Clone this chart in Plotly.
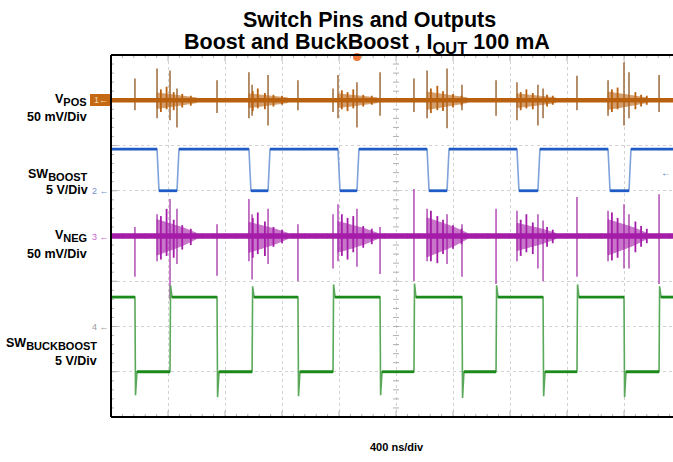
import plotly.graph_objects as go

# ---------------- figure geometry (screen px) ----------------
FW, FH = 673, 462
SCR_L, SCR_T, SCR_B, SCR_R = 111, 55, 417, 673   # plot area edges
ML, MT, MB, MR = SCR_L, SCR_T, FH - SCR_B, FW - SCR_R
PLOT_W = SCR_R - SCR_L
PLOT_H = SCR_B - SCR_T
NS_PER_DIV = 400
PX_PER_XDIV = 57
X_MAX = PLOT_W / PX_PER_XDIV * NS_PER_DIV   # visible ns (right edge is cut)
Y_DIVS = 8
PX_PER_YDIV = PLOT_H / Y_DIVS

# ---------------- channel settings ----------------
VPOS_OFFSET, VPOS_SCALE = 7.0, 50.0     # div, mV/div
BOOST_OFFSET, BOOST_SCALE = 5.0, 5.0    # div, V/div
VNEG_OFFSET, VNEG_SCALE = 4.0, 50.0
BB_OFFSET, BB_SCALE = 2.0, 5.0

# ---------------- data ----------------
# SW_BOOST edges (ns) and levels (V)
boost_fall_ns = [323, 968, 1593, 2218, 2849, 3488]
boost_rise_ns = [463, 1102, 1726, 2358, 2996, 3635]
boost_high_v = 4.6
boost_low_v = 0.0

# SW_BUCKBOOST edges (ns), levels (V), edge overshoots (V)
bb_fall_ns = [168, 744, 1312, 1888, 2463, 3032, 3600]
bb_rise_ns = [414, 990, 1558, 2126, 2702, 3270, 3846]
bb_high_v = 3.25
bb_low_v = -5.0
bb_fall_undershoot_v = [2.6, 2.8, 2.7, 2.6, 2.9, 2.7, 2.8]
bb_rise_overshoot_v = [1.3, 1.2, 1.4, 1.5, 1.3, 1.4, 1.2]

# main spike events on the output rails (ns, mV above / below baseline)
spike_ns = [168, 323, 414, 463, 744, 968, 990, 1102, 1312, 1558, 1593, 1726, 1888,
            2126, 2218, 2358, 2463, 2702, 2849, 2996, 3032, 3270, 3488, 3600, 3635, 3846]
vpos_spike_hi_mv = [24, 35, 33, 13, 22, 31, 17, 28, 22, 13, 28, 20, 31,
                    24, 33, 35, 17, 22, 20, 17, 13, 27, 22, 42, 31, 28]
vpos_spike_lo_mv = [-11, -20, -22, -30, -14, -20, -17, -28, -11, -13, -20, -30, -17,
                    -13, -20, -31, -11, -17, -22, -28, -20, -11, -17, -28, -20, -13]
vneg_spike_hi_mv = [10, 24, 41, 30, 13, 41, 24, 30, 13, 24, 35, 30, 10,
                    52, 30, 24, 13, 30, 28, 24, 17, 43, 28, 35, 24, 46]
vneg_spike_lo_mv = [-45, -28, -70, -31, -44, -28, -48, -31, -50, -36, -28, -34, -42,
                    -50, -28, -31, -45, -53, -28, -36, -50, -45, -28, -36, -36, -53]

# smaller ringing spikes inside the bursts (ns, mV)
ring_ns = [350, 390, 440, 500, 560, 995, 1030, 1080, 1140, 1200,
           1620, 1660, 1700, 1770, 1830, 2245, 2290, 2330, 2400, 2460,
           2875, 2915, 2960, 3060, 3100, 3515, 3555, 3680, 3720, 3760]
vpos_ring_hi_mv = [12, 15, 9, 7, 5, 10, 13, 8, 6, 5,
                   11, 9, 12, 6, 5, 13, 16, 10, 7, 5,
                   9, 12, 8, 6, 5, 12, 14, 9, 6, 5]
vpos_ring_lo_mv = [-13, -10, -11, -8, -6, -12, -9, -10, -7, -5,
                   -10, -12, -9, -7, -5, -14, -11, -12, -8, -6,
                   -11, -9, -10, -7, -5, -13, -10, -10, -7, -5]
vneg_ring_hi_mv = [22, 30, 18, 12, 8, 20, 26, 16, 10, 7,
                   24, 20, 22, 11, 8, 28, 22, 18, 12, 8,
                   18, 24, 15, 10, 7, 26, 20, 16, 11, 8]
vneg_ring_lo_mv = [-26, -22, -24, -15, -10, -24, -20, -22, -12, -8,
                   -22, -26, -18, -13, -9, -28, -30, -20, -14, -9,
                   -22, -18, -20, -12, -8, -27, -24, -18, -12, -8]

# noise bursts following SW_BOOST falling edges (ns, mV envelope)
burst_start_ns = [323, 968, 1593, 2218, 2849, 3488]
burst_end_ns = [600, 1240, 1870, 2500, 3120, 3760]
vpos_burst_hi_mv = [8, 7, 7, 9, 7, 9]
vpos_burst_lo_mv = [9, 8, 8, 10, 8, 10]
vneg_burst_hi_mv = [18, 15, 16, 20, 14, 18]
vneg_burst_lo_mv = [21, 18, 18, 23, 16, 21]
burst_decay = [1.0, 0.7, 0.4, 0.0]      # envelope fraction at 0, 1/3, 2/3, end of burst

# baseline noise band half-width (mV)
vpos_band_mv = 2.6
vneg_band_mv = 3.0

ORANGE = "#B8600E"
ORANGE_SPIKE = "#9C6A3A"
BLUE = "#1F5BC4"
BLUE_EDGE = "#7FA2DA"
MAGENTA = "#A41CA8"
MAGENTA_SPIKE = "#B04CB4"
GREEN = "#1A8A1A"
GREEN_EDGE = "#5AA85A"

EDGE_NS = 14


def to_div(v, offset, scale):
    return offset + v / scale


fig = go.Figure()

# ---------------- graticule minor ticks ----------------
tx, ty = [], []
dx = 3 / PX_PER_XDIV * NS_PER_DIV
dy = 3 / PX_PER_YDIV
n_x_minor = int(X_MAX / (NS_PER_DIV / 5)) + 1
for i in range(n_x_minor):
    x = i * NS_PER_DIV / 5
    tx += [x, x, None]; ty += [4 - dy, 4 + dy, None]
    big = 2 if i % 5 == 0 else 1
    tx += [x, x, None]; ty += [8, 8 - dy * big, None]
    tx += [x, x, None]; ty += [0, dy * big, None]
for j in range(Y_DIVS * 5 + 1):
    y = j / 5
    tx += [2000 - dx, 2000 + dx, None]; ty += [y, y, None]
    big = 2 if j % 5 == 0 else 1
    tx += [0, dx * big, None]; ty += [y, y, None]
fig.add_trace(go.Scatter(x=tx, y=ty, mode="lines", line=dict(color="#b0b0b0", width=1),
                         hoverinfo="skip", showlegend=False))


def spikes(ts, his, los, offset, scale, color, width):
    sx, sy = [], []
    for t, hi, lo in zip(ts, his, los):
        sx += [t, t, None]
        sy += [to_div(lo, offset, scale), to_div(hi, offset, scale), None]
    fig.add_trace(go.Scatter(x=sx, y=sy, mode="lines", line=dict(color=color, width=width),
                             hoverinfo="skip", showlegend=False))


def rail_traces(offset, scale, band, spike_hi, spike_lo, ring_hi, ring_lo, b_hi, b_lo,
                color, spike_color):
    spikes(spike_ns, spike_hi, spike_lo, offset, scale, spike_color, 1.5)
    # bursts as filled decaying envelopes
    for t0, t1, hi, lo in zip(burst_start_ns, burst_end_ns, b_hi, b_lo):
        n = len(burst_decay)
        ts = [t0 + k * (t1 - t0) / (n - 1) for k in range(n)]
        up = [band + (hi - band) * f for f in burst_decay]
        dn = [-(band + (lo - band) * f) for f in burst_decay]
        xs = ts + ts[::-1] + [ts[0]]
        ys = up + dn[::-1] + [up[0]]
        fig.add_trace(go.Scatter(x=xs, y=[to_div(v, offset, scale) for v in ys],
                                 mode="lines", fill="toself", fillcolor=color,
                                 line=dict(color=color, width=1), opacity=0.6,
                                 hoverinfo="skip", showlegend=False))
    spikes(ring_ns, ring_hi, ring_lo, offset, scale, color, 1.8)
    # baseline band
    fig.add_trace(go.Scatter(x=[0, X_MAX], y=[to_div(0, offset, scale)] * 2, mode="lines",
                             line=dict(color=color, width=2 * band / scale * PX_PER_YDIV),
                             hoverinfo="skip", showlegend=False))


rail_traces(VPOS_OFFSET, VPOS_SCALE, vpos_band_mv, vpos_spike_hi_mv, vpos_spike_lo_mv,
            vpos_ring_hi_mv, vpos_ring_lo_mv, vpos_burst_hi_mv, vpos_burst_lo_mv,
            ORANGE, ORANGE_SPIKE)

# SW_BOOST square wave: faint edges, solid levels
bx, by = [0], [boost_high_v]
for f, r in zip(boost_fall_ns, boost_rise_ns):
    bx += [f, f + EDGE_NS, r, r + EDGE_NS]
    by += [boost_high_v, boost_low_v, boost_low_v, boost_high_v]
bx.append(X_MAX); by.append(boost_high_v)
byd = [to_div(v, BOOST_OFFSET, BOOST_SCALE) for v in by]
fig.add_trace(go.Scatter(x=bx, y=byd, mode="lines", line=dict(color=BLUE_EDGE, width=1.6),
                         hoverinfo="skip", showlegend=False))
lx, ly = [], []
for k in range(0, len(bx) - 1, 2):
    lx += [bx[k], bx[k + 1], None]
    ly += [byd[k], byd[k + 1], None]
fig.add_trace(go.Scatter(x=lx, y=ly, mode="lines", line=dict(color=BLUE, width=2.8),
                         hoverinfo="skip", showlegend=False))

rail_traces(VNEG_OFFSET, VNEG_SCALE, vneg_band_mv, vneg_spike_hi_mv, vneg_spike_lo_mv,
            vneg_ring_hi_mv, vneg_ring_lo_mv, vneg_burst_hi_mv, vneg_burst_lo_mv,
            MAGENTA, MAGENTA_SPIKE)

# SW_BUCKBOOST square wave with edge over/undershoot
events = sorted([(t, "f", u) for t, u in zip(bb_fall_ns, bb_fall_undershoot_v)] +
                [(t, "r", o) for t, o in zip(bb_rise_ns, bb_rise_overshoot_v)])
gx, gy = [0], [bb_high_v]
levels_x, levels_y = [0], [bb_high_v]
for t, kind, amp in events:
    if kind == "f":
        gx += [t, t + 4, t + 14]
        gy += [bb_high_v, bb_low_v - amp, bb_low_v]
        levels_x += [t, None, t + 14]
        levels_y += [bb_high_v, None, bb_low_v]
    else:
        gx += [t, t + 4, t + 14]
        gy += [bb_low_v, bb_high_v + amp, bb_high_v]
        levels_x += [t, None, t + 14]
        levels_y += [bb_low_v, None, bb_high_v]
gx.append(X_MAX); gy.append(gy[-1])
levels_x.append(X_MAX); levels_y.append(levels_y[-1])
fig.add_trace(go.Scatter(x=gx, y=[to_div(v, BB_OFFSET, BB_SCALE) for v in gy],
                         mode="lines", line=dict(color=GREEN_EDGE, width=1.6),
                         hoverinfo="skip", showlegend=False))
fig.add_trace(go.Scatter(x=levels_x,
                         y=[None if v is None else to_div(v, BB_OFFSET, BB_SCALE) for v in levels_y],
                         mode="lines", line=dict(color=GREEN, width=2.8),
                         connectgaps=False, hoverinfo="skip", showlegend=False))


# ---------------- layout ----------------
def px_x(px):
    return (px - SCR_L) / PLOT_W


def px_y(py):
    return (SCR_B - py) / PLOT_H


FONT = "Liberation Sans, Arial, sans-serif"
ann = []


def label(text, x_px, center_py, size=12.5, color="black", anchor="right"):
    ann.append(dict(text=text, x=px_x(x_px), y=px_y(center_py), xref="paper", yref="paper",
                    xanchor=anchor, yanchor="middle", showarrow=False,
                    font=dict(family=FONT, size=size, color=color)))


def sub(s):
    return '<sub><span style="font-size:11px">' + s + "</span></sub>"


label("<b>V" + sub("POS") + "</b>", 89, 100)
label("<b>50 mV/Div</b>", 89, 117)
label("<b>SW" + sub("BOOST") + "</b>", 90, 175)
label("<b>5 V/Div</b>", 90, 190)
label("<b>V" + sub("NEG") + "</b>", 89, 236)
label("<b>50 mV/Div</b>", 89, 254)
label("<b>SW" + sub("BUCKBOOST") + "</b>", 99, 344)
label("<b>5 V/Div</b>", 99, 361)

# channel markers
label("1\u2190", 110, 100, size=9, color="#f6dcb8")
label("2 \u2190", 111, 191, size=9, color="#6f8fcf")
label("3 \u2190", 111, 237, size=9, color="#cc66cc")
label("4 \u2190", 111, 327, size=9, color="#999999")
label("\u2190", 666, 172, size=10, color="#3f6fc4", anchor="center")

ann.append(dict(text="<b>Switch Pins and Outputs</b>",
                x=px_x(369), y=px_y(20), xref="paper", yref="paper", xanchor="center",
                yanchor="middle", showarrow=False,
                font=dict(family=FONT, size=21.5, color="black")))
ann.append(dict(text="<b>Boost and BuckBoost , I" +
                '<sub><span style="font-size:16.5px">OUT</span></sub> 100 mA</b>',
                x=px_x(367), y=px_y(43), xref="paper", yref="paper", xanchor="center",
                yanchor="middle", showarrow=False,
                font=dict(family=FONT, size=21.5, color="black")))
ann.append(dict(text="<b>400 ns/div</b>", x=px_x(397), y=px_y(447), xref="paper", yref="paper",
                xanchor="center", yanchor="middle", showarrow=False,
                font=dict(family=FONT, size=11, color="black")))

shapes = [
    dict(type="rect", xref="paper", yref="paper", x0=px_x(90), x1=px_x(111),
         y0=px_y(106), y1=px_y(94), fillcolor="#C46A12", line=dict(width=0), layer="below"),
    dict(type="circle", xref="paper", yref="paper", x0=px_x(353), x1=px_x(361),
         y0=px_y(61), y1=px_y(53), fillcolor="#F07838", line=dict(width=0)),
    dict(type="line", xref="paper", yref="paper", x0=0, x1=0, y0=0, y1=1,
         line=dict(color="black", width=2)),
    dict(type="line", xref="paper", yref="paper", x0=0, x1=1, y0=1, y1=1,
         line=dict(color="black", width=2)),
    dict(type="line", xref="paper", yref="paper", x0=0, x1=1, y0=0, y1=0,
         line=dict(color="black", width=2)),
]

fig.update_layout(
    width=FW, height=FH,
    margin=dict(l=ML, r=MR, t=MT, b=MB, pad=0),
    paper_bgcolor="white", plot_bgcolor="white",
    showlegend=False,
    annotations=ann, shapes=shapes,
    xaxis=dict(range=[0, X_MAX], tick0=0, dtick=NS_PER_DIV, showgrid=True,
               gridcolor="#d2d2d2", griddash="dot", gridwidth=1,
               showticklabels=False, ticks="", zeroline=False, showline=False, fixedrange=True),
    yaxis=dict(range=[0, Y_DIVS], tick0=0, dtick=1, showgrid=True,
               gridcolor="#d2d2d2", griddash="dot", gridwidth=1,
               showticklabels=False, ticks="", zeroline=False, showline=False, fixedrange=True),
)

fig.write_html("out.html", config={"displayModeBar": False},
               post_script="document.body.style.margin='0px';document.body.style.overflow='hidden';")
